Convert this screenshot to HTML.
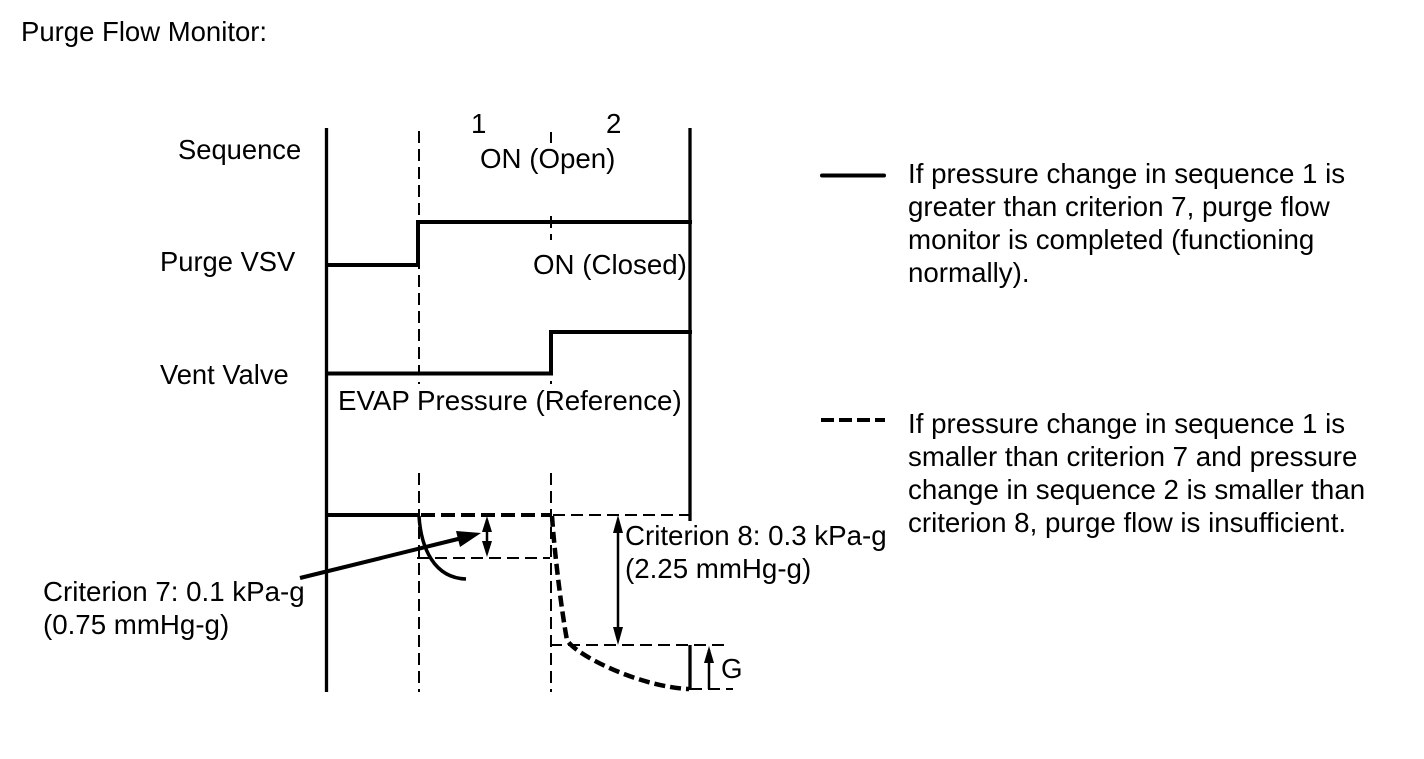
<!DOCTYPE html>
<html>
<head>
<meta charset="utf-8">
<style>
html,body{margin:0;padding:0;background:#fff;width:1424px;height:759px;overflow:hidden}
svg{display:block}
text{font-family:"Liberation Sans",Arial,sans-serif;font-size:27.7px;fill:#000}
text.l{font-size:27.35px}
</style>
</head>
<body>
<svg width="1424" height="759" viewBox="0 0 1424 759" xmlns="http://www.w3.org/2000/svg">
<rect width="1424" height="759" fill="#fff"/>
<text x="21" y="41" style="font-size:27.5px">Purge Flow Monitor:</text>
<text class="l" x="178" y="159">Sequence</text>
<text class="l" x="160" y="271">Purge VSV</text>
<text class="l" x="160" y="384">Vent Valve</text>
<text x="471" y="133">1</text>
<text x="606" y="133">2</text>
<text x="480" y="168">ON (Open)</text>
<text x="533" y="274">ON (Closed)</text>
<text x="338" y="410">EVAP Pressure (Reference)</text>
<text x="625" y="545">Criterion 8: 0.3 kPa-g</text>
<text x="625" y="578">(2.25 mmHg-g)</text>
<text x="43" y="601">Criterion 7: 0.1 kPa-g</text>
<text x="43" y="634">(0.75 mmHg-g)</text>
<text x="721" y="678">G</text>
<text x="908" y="183">If pressure change in sequence 1 is</text>
<text x="908" y="216">greater than criterion 7, purge flow</text>
<text x="908" y="249">monitor is completed (functioning</text>
<text x="908" y="282">normally).</text>
<text x="908" y="433">If pressure change in sequence 1 is</text>
<text x="908" y="466">smaller than criterion 7 and pressure</text>
<text x="908" y="499">change in sequence 2 is smaller than</text>
<text x="908" y="532">criterion 8, purge flow is insufficient.</text>

<g fill="none" stroke="#000" stroke-width="3.300">
<path d="M326.500 128V692"/>
<path d="M690 128V521"/>
<path d="M690 645V690"/>
<path d="M327 265H418V222H692" stroke-width="4"/>
<path d="M327 373.500H551V332H692" stroke-width="4"/>
<path d="M327 515H419" stroke-width="4"/>
<path d="M419 516C421 548 434 578 466 579" stroke-width="3.500"/>
<path d="M300 578L462 538" stroke-width="4"/>
<path d="M822 175.500H884" stroke-width="4" stroke-linecap="round"/>
<path d="M821 420H885" stroke-width="4" stroke-dasharray="13 5"/>
<path d="M421 515H551" stroke-width="4" stroke-dasharray="14 6"/>
<path d="M552 516C555 560 563 620 567 640C575 655 640 687 689 689" stroke-width="4.500" stroke-dasharray="11 5"/>
</g>
<g fill="none" stroke="#000" stroke-width="2">
<path d="M419 131V373M419 382V384M419 473V692" stroke-dasharray="12 6"/>
<path d="M551 132V143M551 216V240M551 381V384M551 473V692" stroke-dasharray="12 6"/>
<path d="M553 515H690" stroke-dasharray="12 6"/>
<path d="M417 558H550" stroke-dasharray="12 6"/>
<path d="M550 645H727" stroke-dasharray="12 6"/>
<path d="M690 689H733" stroke-dasharray="12 6"/>
</g>
<g fill="none" stroke="#000" stroke-width="2.500">
<path d="M487 520V553"/>
<path d="M618 520V640"/>
<path d="M709 650V689"/>
</g>
<g fill="#000">
<path d="M481 533L456 531L460 547Z"/>
<path d="M487 516L482 532H492Z"/>
<path d="M487 557L482 541H492Z"/>
<path d="M618 515L613 533H623Z"/>
<path d="M618 645L613 627H623Z"/>
<path d="M709 646L704 663H714Z"/>
</g>
</svg>
</body>
</html>
